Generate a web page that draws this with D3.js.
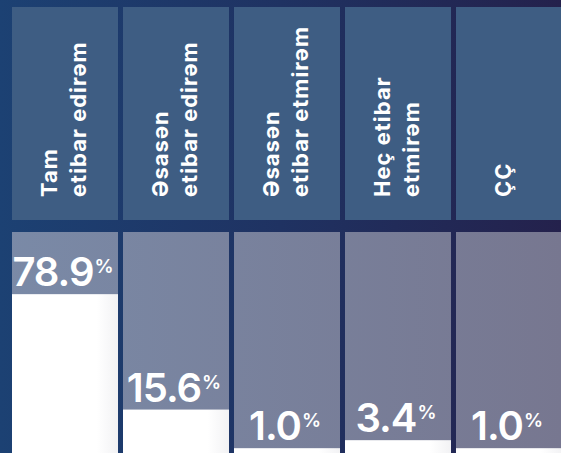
<!DOCTYPE html>
<html>
<head>
<meta charset="utf-8">
<script src="https://cdn.jsdelivr.net/npm/d3@7"></script>
<style>
  html, body { margin: 0; padding: 0; background: #1f3262; }
  svg { display: block; }
</style>
</head>
<body>
<svg id="chart" width="561" height="453"></svg>
<script>
// Survey answers: degree of trust
const categories = ["Tam\netibar edirəm", "Əsasən\netibar edirəm", "Əsasən\netibar etmirəm", "Heç etibar\netmirəm", "ÇÇ"];
const values = [78.9, 15.6, 1.0, 3.4, 1.0];
const valueLabels = ["78.9", "15.6", "1.0", "3.4", "1.0"];

const W = 561, H = 453;
const svg = d3.select("#chart");
const defs = svg.append("defs");

// page background: deep blue fading to indigo
const bg = defs.append("linearGradient").attr("id", "bg")
  .attr("x1", 0).attr("x2", 1).attr("y1", 0).attr("y2", 0);
bg.append("stop").attr("offset", 0).attr("stop-color", "#1c4173");
bg.append("stop").attr("offset", 0.5).attr("stop-color", "#1f3262");
bg.append("stop").attr("offset", 1).attr("stop-color", "#24214c");

// lower track panels: grey-blue to grey-violet
const track = defs.append("linearGradient").attr("id", "track")
  .attr("gradientUnits", "userSpaceOnUse")
  .attr("x1", 0).attr("x2", W).attr("y1", 0).attr("y2", 0);
track.append("stop").attr("offset", 0).attr("stop-color", "#7a8aa7");
track.append("stop").attr("offset", 1).attr("stop-color", "#777790");

// white bars with a faint grey edge on the right
const barGrad = defs.append("linearGradient").attr("id", "barfill")
  .attr("x1", 0).attr("x2", 1).attr("y1", 0).attr("y2", 0);
barGrad.append("stop").attr("offset", 0).attr("stop-color", "#ffffff");
barGrad.append("stop").attr("offset", 0.8).attr("stop-color", "#ffffff");
barGrad.append("stop").attr("offset", 1).attr("stop-color", "#f2f2f4");

svg.append("rect").attr("width", W).attr("height", H).attr("fill", "url(#bg)");

const x = d3.scaleBand()
  .domain(categories)
  .range([12, 562])
  .paddingInner(0.045)
  .paddingOuter(0);

const headerTop = 7, headerBottom = 220;
const trackTop = 232;

// bar heights use a compressed power scale
const y = d3.scalePow().exponent(0.8)
  .domain([0, 100])
  .range([H, 261]);

const FONT = "Inter, 'Open Sans', sans-serif";

// header panels with rotated category names
const head = svg.append("g").selectAll("g")
  .data(categories)
  .join("g");

head.append("rect")
  .attr("x", d => x(d))
  .attr("y", headerTop)
  .attr("width", x.bandwidth())
  .attr("height", headerBottom - headerTop)
  .attr("fill", "#3e5d83");

head.each(function(d) {
  const lines = d.split("\n");
  const cx = x(d) + x.bandwidth() / 2;
  const g = d3.select(this).append("g")
    .attr("transform", `translate(${cx},197) rotate(-90)`);
  const offsets = lines.length === 1 ? [2] : [-8, 21];
  lines.forEach((ln, i) => {
    g.append("text")
      .attr("x", 0)
      .attr("y", offsets[i])
      .attr("fill", "#ffffff")
      .attr("font-family", FONT)
      .attr("font-weight", 700)
      .attr("font-size", 22)
      .attr("letter-spacing", 1.0)
      .text(ln);
  });
});

// lower tracks and value bars
const cols = svg.append("g").selectAll("g")
  .data(categories.map((c, i) => ({ c, v: values[i], label: valueLabels[i] })))
  .join("g");

cols.append("rect")
  .attr("x", d => x(d.c))
  .attr("y", trackTop)
  .attr("width", x.bandwidth())
  .attr("height", H - trackTop)
  .attr("fill", "url(#track)");

cols.append("rect")
  .attr("x", d => x(d.c))
  .attr("y", d => y(d.v))
  .attr("width", x.bandwidth())
  .attr("height", d => H - y(d.v))
  .attr("fill", "url(#barfill)");

const lbl = cols.append("text")
  .attr("x", d => x(d.c) + x.bandwidth() / 2 - 2)
  .attr("y", d => y(d.v) - 8)
  .attr("text-anchor", "middle")
  .attr("fill", "#ffffff")
  .attr("font-family", FONT)
  .attr("font-weight", 600);

lbl.append("tspan")
  .attr("font-size", 40)
  .attr("letter-spacing", -1)
  .text(d => d.label);
lbl.append("tspan")
  .attr("font-size", 19)
  .attr("dx", 1)
  .attr("dy", -13)
  .text("%");
</script>
</body>
</html>
